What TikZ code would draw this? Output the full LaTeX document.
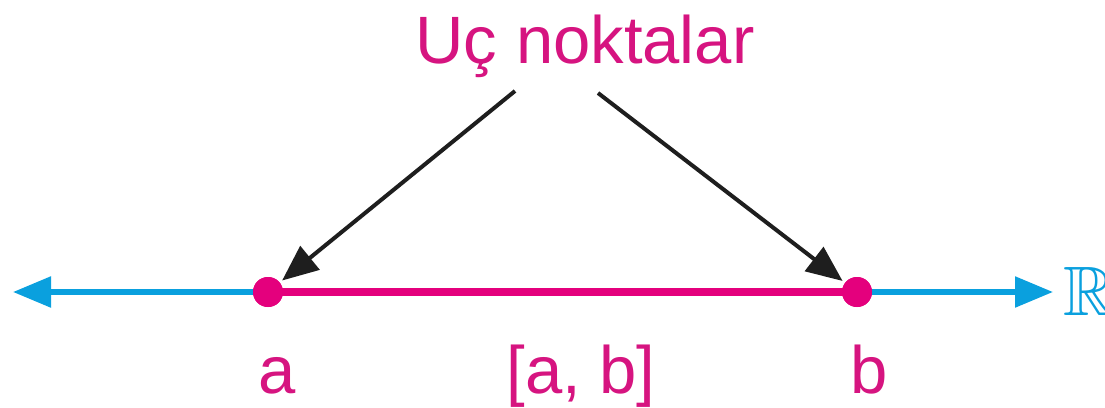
\documentclass[tikz,border=0pt]{standalone}
\usepackage{fontspec}
\usepackage{amssymb}
\setmainfont{Liberation Sans}
\usetikzlibrary{arrows.meta}
\definecolor{mag}{RGB}{228,0,125}
\definecolor{txtmag}{RGB}{214,20,128}
\definecolor{axcyan}{RGB}{10,160,222}
\definecolor{arrblk}{RGB}{30,30,30}
\tikzset{
  lbl/.style={text=txtmag, font=\fontsize{67}{70}\selectfont, anchor=base, inner sep=0pt},
  endpt/.style={circle, fill=mag, minimum size=30pt, inner sep=0pt},
  axis/.style={draw=axcyan, line width=5.5pt, -{Triangle[length=38pt,width=30pt]}},
  seg/.style={draw=mag, line width=8pt},
  pointer/.style={draw=arrblk, line width=4pt, -{Triangle[length=36pt,width=30pt]}, shorten >=3pt}
}
\begin{document}
\begin{tikzpicture}[x=1pt,y=-1pt]
\useasboundingbox (0,0) rectangle (1105,407);
% axis
\coordinate (mid) at (560,292);
\coordinate (L) at (13,292);
\coordinate (R) at (1053,292);
\draw[axis] (mid) -- (L);
\draw[axis] (mid) -- (R);
\node[text=axcyan, font=\fontsize{70}{72}\selectfont, anchor=base west, inner sep=0pt] (reals) at (1063,315) {$\mathbb{R}$};
% endpoints and segment
\node[endpt] (pa) at (268,292) {};
\node[endpt] (pb) at (857,292) {};
\draw[seg] (pa.center) -- (pb.center);
\node[endpt] at (pa) {};
\node[endpt] at (pb) {};
% title and pointers
\node[lbl] (title) at (585,63) {Uç noktalar};
\coordinate (s1) at (515,91);
\coordinate (s2) at (598,93);
\draw[pointer] (s1) -- (pa);
\draw[pointer] (s2) -- (pb);
% labels
\node[lbl] (la) at (277,393) {a};
\node[lbl] (lab) at (581,393) {[a, b]};
\node[lbl] (lb) at (869,393) {b};
\end{tikzpicture}
\end{document}
